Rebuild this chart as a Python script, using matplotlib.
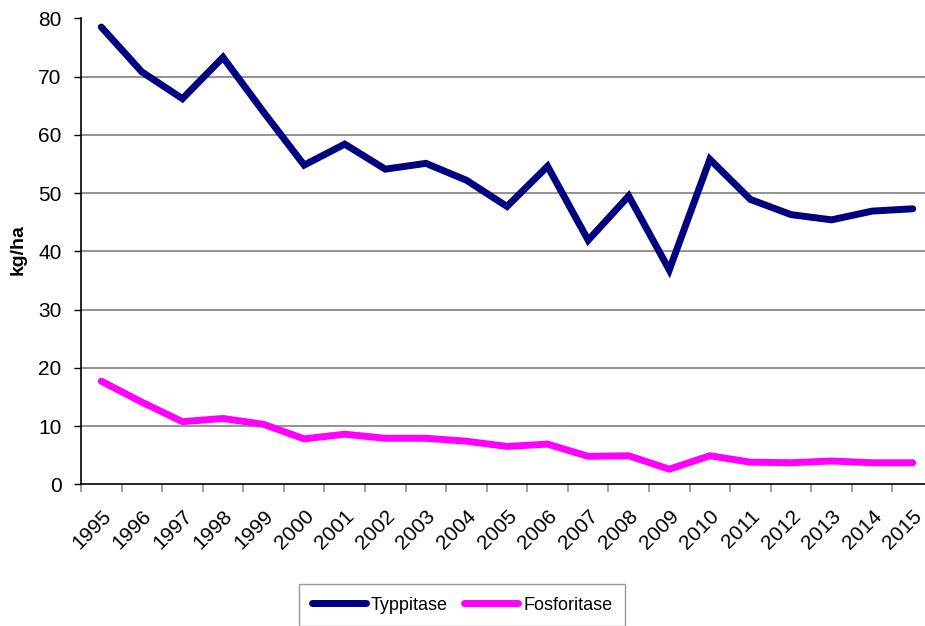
import matplotlib
matplotlib.use("Agg")
import matplotlib.pyplot as plt
import numpy as np

plt.rcParams['font.family'] = ['Liberation Sans', 'DejaVu Sans']

years = [str(y) for y in range(1995, 2016)]
typpitase = [78.5, 70.8, 66.2, 73.3, 63.9, 54.8, 58.4, 54.1, 55.1, 52.2, 47.7,
             54.6, 41.9, 49.5, 36.8, 55.8, 48.9, 46.3, 45.4, 46.9, 47.3]
fosforitase = [17.7, 14.1, 10.75, 11.3, 10.3, 7.8, 8.6, 7.9, 7.9, 7.4, 6.5,
               6.9, 4.8, 4.9, 2.6, 4.9, 3.8, 3.7, 4.0, 3.7, 3.7]
yticks = [0, 10, 20, 30, 40, 50, 60, 70, 80]

W, H = 925, 626
fig = plt.figure(figsize=(W / 100, H / 100), dpi=100)
left, right, top, bottom = 81, 933, 18.3, 484.3
ax = fig.add_axes([left / W, (H - bottom) / H, (right - left) / W, (bottom - top) / H])

x = np.arange(len(years))
l1, = ax.plot(x, typpitase, color='#000080', lw=5, solid_joinstyle='miter',
              solid_capstyle='round', label='Typpitase')
l2, = ax.plot(x, fosforitase, color='#FF00FF', lw=5, solid_joinstyle='miter',
              solid_capstyle='round', label='Fosforitase')

ax.set_xlim(-0.5, len(years) - 0.5)
ax.set_ylim(0, 80)
ax.set_yticks(yticks)
ax.set_yticklabels([str(v) for v in yticks], fontsize=15)
for v in yticks[1:-1]:
    ax.axhline(v, color='#808080', lw=1.2, zorder=0)

ax.set_xticks(np.arange(len(years) + 1) - 0.5)
ax.set_xticklabels([])
ax.set_xticks(x, minor=True)
ax.set_xticklabels(years, minor=True, rotation=45, ha='right',
                   rotation_mode='anchor', fontsize=15)
ax.tick_params(axis='x', which='minor', length=0, pad=16)
ax.tick_params(axis='x', which='major', length=6, width=1.2, color='#909090', direction='out')
ax.tick_params(axis='y', length=5, width=1, direction='out', pad=9)

for s in ['top', 'right']:
    ax.spines[s].set_visible(False)
ax.spines['left'].set_linewidth(1.2)
ax.spines['bottom'].set_linewidth(1.2)

fig.text(18.5 / W, 1 - 250 / H, 'kg/ha', rotation=90, fontsize=14, fontweight='bold',
         ha='center', va='center')

leg = fig.legend(handles=[l1, l2], loc='upper left',
                 bbox_to_anchor=(299 / W, 1 - 584 / H), ncol=2, fontsize=13,
                 frameon=True, fancybox=False, edgecolor='#808080',
                 handlelength=3.0, handletextpad=0.28, columnspacing=0.9,
                 borderpad=0.7, borderaxespad=0)
leg.get_frame().set_linewidth(1.0)

fig.savefig('out.png', dpi=100)
